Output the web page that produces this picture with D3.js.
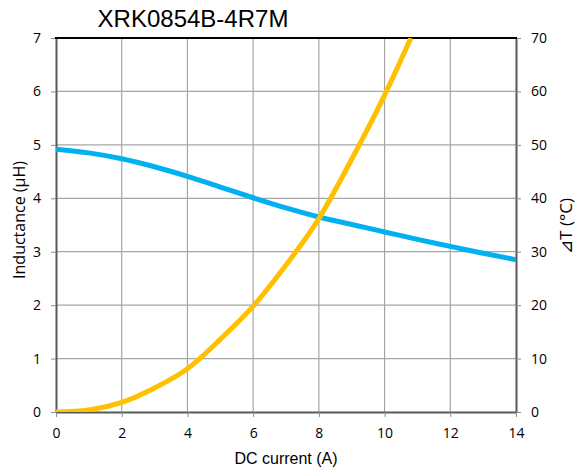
<!DOCTYPE html>
<html>
<head>
<meta charset="utf-8">
<script src="https://cdn.jsdelivr.net/npm/d3@7"></script>
<style>
body { margin: 0; background: #fff; }
</style>
</head>
<body>
<svg></svg>
<script>
var width = 580;
var height = 474;

var title = "XRK0854B-4R7M";

// inductance (uH) vs DC current (A)
var indCurrent = [0, 1, 2, 3, 4, 5, 6, 7, 8, 9, 10, 11, 12, 13, 14];
var indValues = [4.92, 4.85, 4.74, 4.59, 4.41, 4.21, 4.01, 3.82, 3.65, 3.51, 3.37, 3.23, 3.10, 2.97, 2.85];

// temperature rise (C) vs DC current (A)
var tempCurrent = [0, 1, 2, 3, 4, 5, 6, 7, 8, 9, 10, 10.8];
var tempValues = [0, 0.4, 1.8, 4.5, 8.1, 13.6, 19.8, 27.5, 36.2, 47.3, 59.3, 70];

var xTicks = [0, 2, 4, 6, 8, 10, 12, 14];
var yLeftTicks = [0, 1, 2, 3, 4, 5, 6, 7];
var yRightTicks = [0, 10, 20, 30, 40, 50, 60, 70];

var plotLeft = 56, plotRight = 516, plotTop = 38, plotBottom = 412;

var svg = d3.select("svg");
svg.attr('width', width).attr('height', height);

var xScale = d3.scaleLinear().domain([0, 14]).range([plotLeft, plotRight]);
var yScale = d3.scaleLinear().domain([0, 7]).range([plotBottom, plotTop]);
var tScale = d3.scaleLinear().domain([0, 70]).range([plotBottom, plotTop]);

// gridlines
svg.append('g')
  .selectAll('line')
  .data(xTicks.slice(1, -1))
  .enter()
  .append('line')
  .attr('x1', function(d) { return xScale(d); })
  .attr('x2', function(d) { return xScale(d); })
  .attr('y1', plotTop)
  .attr('y2', plotBottom)
  .attr('stroke', '#a6a6a6')
  .attr('stroke-width', 1.2);

svg.append('g')
  .selectAll('line')
  .data(yLeftTicks.slice(1, -1))
  .enter()
  .append('line')
  .attr('x1', plotLeft)
  .attr('x2', plotRight)
  .attr('y1', function(d) { return yScale(d); })
  .attr('y2', function(d) { return yScale(d); })
  .attr('stroke', '#a6a6a6')
  .attr('stroke-width', 1.2);

// axes
var tickFont = "'Open Sans', sans-serif";
var fmt = d3.format('d');

var xAxis = svg.append('g')
  .attr('transform', 'translate(0,' + plotBottom + ')')
  .call(d3.axisBottom(xScale).tickValues(xTicks).tickFormat(fmt)
    .tickSize(5).tickSizeOuter(0).tickPadding(11));

var yAxis = svg.append('g')
  .attr('transform', 'translate(' + plotLeft + ',0)')
  .call(d3.axisLeft(yScale).tickValues(yLeftTicks).tickFormat(fmt)
    .tickSize(5).tickSizeOuter(0).tickPadding(10));

var tAxis = svg.append('g')
  .attr('transform', 'translate(' + plotRight + ',0)')
  .call(d3.axisRight(tScale).tickValues(yRightTicks).tickFormat(fmt)
    .tickSize(5).tickSizeOuter(0).tickPadding(10));

[xAxis, yAxis, tAxis].forEach(function(g) {
  g.selectAll('text')
    .attr('fill', '#000')
    .style('font-family', tickFont)
    .style('font-size', '14px');
  g.selectAll('.tick line').attr('stroke', '#8c8c8c');
  g.select('.domain').attr('stroke', '#595959').attr('stroke-width', 2);
});

// top border
svg.append('line')
  .attr('x1', plotLeft - 1)
  .attr('x2', plotRight + 1)
  .attr('y1', plotTop)
  .attr('y2', plotTop)
  .attr('stroke', '#000')
  .attr('stroke-width', 2);

// lines
svg.append('clipPath').attr('id', 'plot')
  .append('rect')
  .attr('x', plotLeft)
  .attr('y', plotTop)
  .attr('width', plotRight - plotLeft)
  .attr('height', plotBottom - plotTop);

var indLine = d3.line()
  .x(function(d, i) { return xScale(indCurrent[i]); })
  .y(function(d) { return yScale(d); })
  .curve(d3.curveMonotoneX);

var tempLine = d3.line()
  .x(function(d, i) { return xScale(tempCurrent[i]); })
  .y(function(d) { return tScale(d); })
  .curve(d3.curveMonotoneX);

svg.append('path')
  .attr('d', indLine(indValues))
  .attr('fill', 'none')
  .attr('stroke', '#00b0f0')
  .attr('stroke-width', 5)
  .attr('clip-path', 'url(#plot)');

svg.append('path')
  .attr('d', tempLine(tempValues))
  .attr('fill', 'none')
  .attr('stroke', '#ffc000')
  .attr('stroke-width', 5)
  .attr('clip-path', 'url(#plot)');

// titles
svg.append('text')
  .text(title)
  .attr('x', 193)
  .attr('y', 27)
  .attr('text-anchor', 'middle')
  .style('font-family', "'Liberation Sans', Arial, sans-serif")
  .style('font-size', '24px');

svg.append('text')
  .text('DC current (A)')
  .attr('x', (plotLeft + plotRight) / 2)
  .attr('y', 464)
  .attr('text-anchor', 'middle')
  .style('font-family', "'Liberation Sans', Arial, sans-serif")
  .style('font-size', '16px');

svg.append('text')
  .text('Inductance (μH)')
  .attr('transform', 'translate(25,220) rotate(-90)')
  .attr('text-anchor', 'middle')
  .style('font-family', tickFont)
  .style('font-size', '16px');

svg.append('text')
  .text('⊿T (°C)')
  .attr('transform', 'translate(572,226) rotate(-90)')
  .attr('text-anchor', 'middle')
  .style('font-family', tickFont)
  .style('font-size', '17px');
</script>
</body>
</html>
